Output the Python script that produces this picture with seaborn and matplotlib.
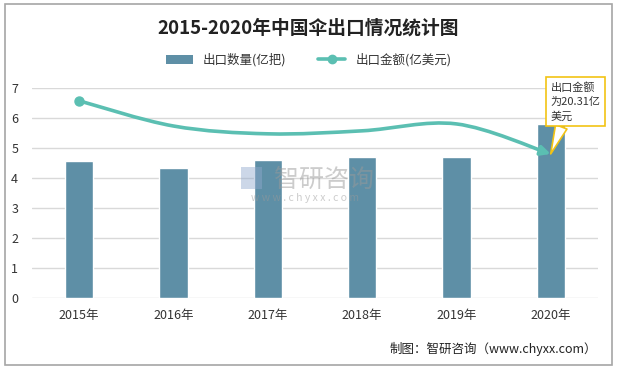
import numpy as np
import pandas as pd
import matplotlib
matplotlib.use("Agg")
import matplotlib.pyplot as plt
import seaborn as sns
from matplotlib.path import Path
from matplotlib.patches import FancyArrowPatch, Rectangle, Patch
from matplotlib.lines import Line2D

# Data
years = ["2015年", "2016年", "2017年", "2018年", "2019年", "2020年"]
quantity = [4.57, 4.33, 4.60, 4.70, 4.70, 5.80]      # 出口数量(亿把)
value = [6.57, 5.73, 5.47, 5.57, 5.80, 4.80]          # 出口金额(亿美元), as drawn

BAR_COLOR = "#5e8fa6"
LINE_COLOR = "#5bbfb2"

sns.set_theme(style="white")
plt.rcParams["font.family"] = ["Noto Sans CJK SC", "DejaVu Sans"]

fig = plt.figure(figsize=(6.17, 3.71), dpi=100)
ax = fig.add_axes([0.052, 0.197, 0.917, 0.566])

df = pd.DataFrame({"year": years, "qty": quantity})
sns.barplot(data=df, x="year", y="qty", color=BAR_COLOR, width=0.3,
            saturation=1, ax=ax, zorder=2)

# smooth line (Catmull-Rom -> cubic Bezier) drawn in data coordinates
pts = np.column_stack([np.arange(len(value)), value]).astype(float)
verts = [pts[0]]
codes = [Path.MOVETO]
for i in range(len(pts) - 1):
    p0 = pts[i - 1] if i > 0 else pts[i]
    p3 = pts[i + 2] if i + 2 < len(pts) else pts[i + 1]
    c1 = pts[i] + (pts[i + 1] - p0) / 6
    c2 = pts[i + 1] - (p3 - pts[i]) / 6
    verts += [c1, c2, pts[i + 1]]
    codes += [Path.CURVE4] * 3
curve = FancyArrowPatch(path=Path(verts, codes), arrowstyle="-|>",
                        mutation_scale=14, color=LINE_COLOR, lw=2.6, zorder=4)
ax.add_patch(curve)
ax.plot([0], [value[0]], "o", color=LINE_COLOR, ms=6.5, zorder=5)

ax.set_ylim(0, 7)
ax.set_xlim(-0.5, 5.5)
ax.set_yticks(range(8))
ax.yaxis.grid(True, color="#d9d9d9", lw=1)
ax.set_axisbelow(True)
for s in ax.spines.values():
    s.set_visible(False)
ax.set_xlabel("")
ax.set_ylabel("")
ax.tick_params(axis="both", length=0, labelsize=9, colors="#333333")
ax.tick_params(axis="x", pad=8)
ax.tick_params(axis="y", pad=10)

# callout box for 2020 value
ax.annotate("出口金额\n为20.31亿\n美元", xy=(5, value[-1]), xytext=(5.0, 7.2),
            fontsize=8, color="#333333", va="top", ha="left",
            linespacing=1.5, annotation_clip=False, zorder=6,
            bbox=dict(boxstyle="square,pad=0.4", fc="white", ec="#f2c314", lw=1.2),
            arrowprops=dict(arrowstyle="wedge,tail_width=1.1", fc="white",
                            ec="#f2c314", lw=1.2, shrinkA=0, shrinkB=0,
                            relpos=(0.25, 0.0)))

# watermark
fig.text(0.525, 0.515, "智研咨询", fontsize=18, color="#9a9a9a", alpha=0.5,
         ha="center", va="center")
fig.text(0.495, 0.465, "w w w . c h y x x . c o m", fontsize=7.5, color="#9a9a9a",
         alpha=0.5, ha="center", va="center")
fig.patches.append(Rectangle((0.39, 0.49), 0.034, 0.06, transform=fig.transFigure,
                             fc="#8fa8cc", alpha=0.45, ec="none"))

# title and legend
fig.text(0.5, 0.925, "2015-2020年中国伞出口情况统计图", fontsize=13.5,
         fontweight="bold", color="#222222", ha="center", va="center")
handles = [Patch(facecolor=BAR_COLOR, edgecolor="none"),
           Line2D([0], [0], color=LINE_COLOR, lw=2.6, marker="o", ms=6)]
fig.legend(handles, ["出口数量(亿把)", "出口金额(亿美元)"], loc="center",
           bbox_to_anchor=(0.5, 0.838), ncol=2, frameon=False, fontsize=9,
           handlelength=2.2, columnspacing=2.5, labelcolor="#333333")

fig.text(0.968, 0.06, "制图：智研咨询（www.chyxx.com）", fontsize=9,
         color="#222222", ha="right", va="center")

fig.patches.append(Rectangle((0.008, 0.016), 0.984, 0.973, transform=fig.transFigure,
                             fill=False, ec="#a6a6a6", lw=1.2))

fig.savefig("out.png", dpi=100)
